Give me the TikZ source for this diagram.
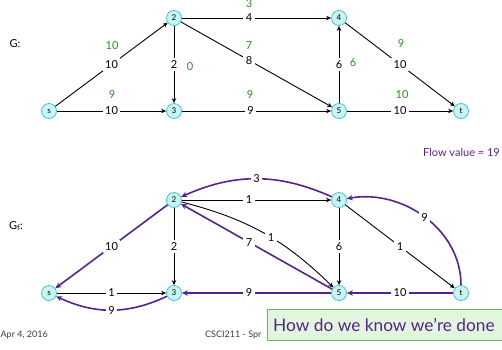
\documentclass[tikz,border=0pt]{standalone}
\usepackage{fontspec}
\setmainfont{Lato}
\usetikzlibrary{arrows.meta}
\definecolor{nfill}{RGB}{200,244,244}
\definecolor{ndraw}{RGB}{70,195,205}
\definecolor{pur}{RGB}{85,35,145}
\definecolor{grn}{RGB}{40,145,30}
\definecolor{boxfill}{RGB}{226,246,222}
\definecolor{boxdraw}{RGB}{100,185,90}
\definecolor{foot}{RGB}{60,60,60}
\tikzset{
  vtx/.style={circle, draw=ndraw, fill=nfill, line width=0.8pt, minimum size=15pt, inner sep=0pt, font=\fontsize{8}{8}\selectfont},
  arr/.style={draw=black, line width=0.9pt, -{Stealth[length=5pt,width=4.5pt]}},
  parr/.style={draw=pur, line width=1.6pt, -{Stealth[length=6pt,width=5.5pt]}},
  lbl/.style={fill=white, inner sep=2.5pt, text=black, font=\fontsize{11}{11}\selectfont},
  flw/.style={text=grn, inner sep=1pt, font=\fontsize{11}{11}\selectfont},
  txt/.style={inner sep=0pt, font=\fontsize{11}{11}\selectfont},
}
\begin{document}
\begin{tikzpicture}[x=1pt,y=1pt]
\useasboundingbox (0,0) rectangle (502,-349);
\clip (0,0) rectangle (502,-349);
% ---------- top graph G ----------
\node[vtx] (s)  at (49,-111) {s};
\node[vtx] (n2) at (174,-18) {2};
\node[vtx] (n3) at (174,-111) {3};
\node[vtx] (n4) at (339,-18) {4};
\node[vtx] (n5) at (339,-111) {5};
\node[vtx] (t)  at (461,-111) {t};

\draw[arr] (s) -- node[lbl] (ls2) {10} (n2);
\draw[arr] (s) -- node[lbl,pos=0.5] (ls3) {10} (n3);
\draw[arr] (n2) -- node[lbl,pos=0.45] (l24) {4} (n4);
\draw[arr] (n2) -- node[lbl,pos=0.45] (l25) {8} (n5);
\draw[arr] (n2) -- node[lbl] (l23) {2} (n3);
\draw[arr] (n3) -- node[lbl,pos=0.46] (l35) {9} (n5);
\draw[arr] (n5) -- node[lbl] (l54) {6} (n4);
\draw[arr] (n4) -- node[lbl] (l4t) {10} (t);
\draw[arr] (n5) -- node[lbl] (l5t) {10} (t);

\node[flw] (fs2) at (112,-46) {10};
\node[flw] (fs3) at (112,-95) {9};
\node[flw] (f24) at (249,-4) {3};
\node[flw] (f25) at (249,-46) {7};
\node[flw] (f23) at (190,-67) {0};
\node[flw] (f35) at (250,-95) {9};
\node[flw] (f54) at (353,-63) {6};
\node[flw] (f4t) at (401,-44) {9};
\node[flw] (f5t) at (402,-95) {10};

\node[txt] (gl) at (15,-44) {G:};
\node[txt, text=pur, anchor=east] (fv) at (500,-152) {Flow value = 19};

% ---------- residual graph G_f ----------
\node[vtx] (bs) at (49,-293) {s};
\node[vtx] (b2) at (174,-200) {2};
\node[vtx] (b3) at (174,-293) {3};
\node[vtx] (b4) at (339,-200) {4};
\node[vtx] (b5) at (339,-293) {5};
\node[vtx] (bt) at (461,-293) {t};

\draw[arr] (b2) -- node[lbl,pos=0.45] (m24) {1} (b4);
\draw[arr] (b2) to[bend left=15] node[lbl,pos=0.55] (m25) {1} (b5);
\draw[arr] (b2) -- node[lbl] (m23) {2} (b3);
\draw[arr] (bs) -- node[lbl] (ms3) {1} (b3);
\draw[arr] (b4) -- node[lbl] (m45) {6} (b5);
\draw[arr] (b4) -- node[lbl] (m4t) {1} (bt);

\draw[parr] (b4) to[bend right=24] node[lbl] (p42) {3} (b2);
\draw[parr] (b5) -- node[lbl,pos=0.55] (p52) {7} (b2);
\draw[parr] (b2) -- node[lbl] (p2s) {10} (bs);
\draw[parr] (b3) to[bend left=25] node[lbl] (p3s) {9} (bs);
\draw[parr] (b5) -- node[lbl,pos=0.55] (p53) {9} (b3);
\draw[parr] (bt) -- node[lbl] (pt5) {10} (b5);
\draw[parr] (bt.north) to[out=90,in=10] node[lbl] (pt4) {9} (b4);

\node[txt] (gf) at (16,-226) {G\textsubscript{f}:};

% ---------- footer ----------
\node[anchor=east, inner sep=0pt, text=foot, font=\fontsize{9}{9}\selectfont] (date) at (48,-335) {Apr 4, 2016};
\node[anchor=west, inner sep=0pt, text=foot, font=\fontsize{9}{9}\selectfont] (course) at (205,-335) {CSCI211 - Spr};
\node[anchor=north west, draw=boxdraw, fill=boxfill, line width=1pt, minimum width=250pt, minimum height=31pt, inner sep=0pt] (qbox) at (267,-309) {};
\node[anchor=west, text=pur, inner sep=0pt, font=\fontsize{17.3}{17.3}\selectfont] (q) at (273,-325) {How do we know we’re done};
\end{tikzpicture}
\end{document}
